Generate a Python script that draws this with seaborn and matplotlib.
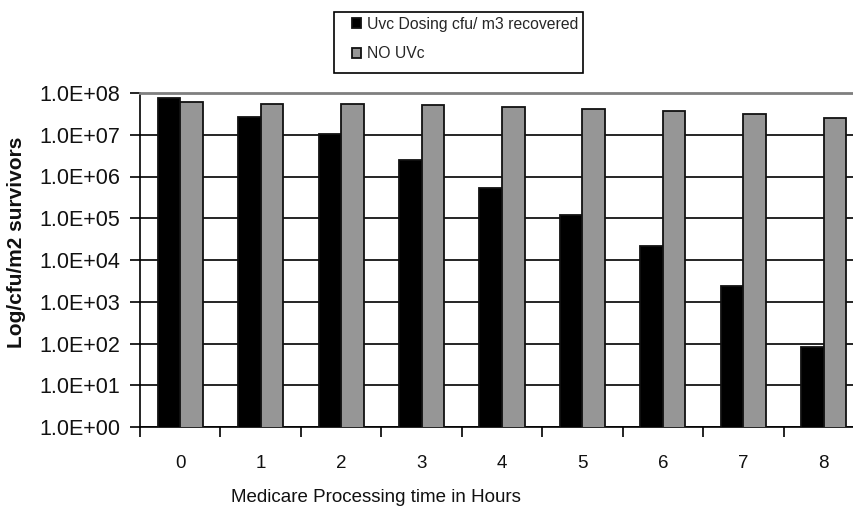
import numpy as np
import pandas as pd
import matplotlib
matplotlib.use("Agg")
import matplotlib.pyplot as plt
from matplotlib.patches import Rectangle
from matplotlib.ticker import FixedLocator, FuncFormatter, NullFormatter
import seaborn as sns

hours = ["0", "1", "2", "3", "4", "5", "6", "7", "8"]
uvc_dosing = [7.7e7, 2.66e7, 1.04e7, 2.44e6, 5.2e5, 1.22e5, 2.2e4, 2.38e3, 82]
no_uvc = [6.0e7, 5.5e7, 5.5e7, 5.1e7, 4.6e7, 4.2e7, 3.8e7, 3.2e7, 2.57e7]
series_names = ["Uvc Dosing cfu/ m3 recovered", "NO UVc"]
y_ticks = [1e0, 1e1, 1e2, 1e3, 1e4, 1e5, 1e6, 1e7, 1e8]

df = pd.DataFrame({
    "hour": hours * 2,
    "value": uvc_dosing + no_uvc,
    "series": [series_names[0]] * len(hours) + [series_names[1]] * len(hours),
})

sns.set_theme(style="white")
plt.rcParams["font.family"] = ["Liberation Sans", "DejaVu Sans"]

W, H = 854, 512
fig = plt.figure(figsize=(W / 100, H / 100), dpi=100)
ax = fig.add_axes([140 / W, 1 - 427 / H, 724 / W, 334 / H])

sns.barplot(
    data=df, x="hour", y="value", hue="series", order=hours,
    hue_order=series_names, palette=["#000000", "#969696"],
    width=0.56, edgecolor="#111111", linewidth=1.3, ax=ax,
    legend=True, zorder=3,
)

ax.set_yscale("log")
ax.set_ylim(1, 1e8)
ax.set_xlim(-0.5, 8.5)

ax.yaxis.set_major_locator(FixedLocator(y_ticks))
ax.yaxis.set_minor_locator(FixedLocator([]))
ax.yaxis.set_major_formatter(FuncFormatter(lambda v, p: f"{v:.1E}"))
ax.yaxis.grid(True, color="#000000", linewidth=1.2, zorder=0)
ax.set_axisbelow(True)

ax.xaxis.set_minor_locator(FixedLocator(np.arange(-0.5, 9.0, 1.0)))
ax.xaxis.set_minor_formatter(NullFormatter())
ax.tick_params(axis="x", which="major", length=0, pad=20, labelsize=13.5, colors="#111111")
ax.tick_params(axis="x", which="minor", length=7, width=1.2, color="#000000", bottom=True)
ax.tick_params(axis="y", which="major", length=7, width=1.2, color="#000000",
               left=True, pad=7, labelsize=15.5, labelcolor="#111111")

ax.spines["right"].set_visible(False)
ax.spines["top"].set_color("#7f7f7f")
ax.spines["top"].set_linewidth(2.0)
for side in ["left", "bottom"]:
    ax.spines[side].set_color("#000000")
    ax.spines[side].set_linewidth(1.2)

ax.set_xlabel("Medicare Processing time in Hours", fontsize=13.5, color="#111111")
ax.xaxis.set_label_coords((376 - 140) / 724, (427 - 497) / 334)
ax.set_ylabel("Log/cfu/m2 survivors", fontsize=15, fontweight="bold", color="#111111")
ax.yaxis.set_label_coords((17 - 140) / 724, (427 - 242) / 334)
ax.yaxis.label.set_va("center")
ax.xaxis.label.set_va("center")

# Legend entries without their own frame; the box is drawn separately
handles, labels = ax.get_legend_handles_labels()
ax.legend(
    handles, labels, loc="upper left",
    bbox_to_anchor=(352 / W, 1 - 17 / H),
    bbox_transform=fig.transFigure,
    frameon=False, fontsize=11.3, handlelength=0.6, handleheight=0.6,
    handletextpad=0.35, borderpad=0, labelspacing=0.9, borderaxespad=0,
)
fig.patches.append(Rectangle(
    (334 / W, 1 - 73 / H), 249 / W, 61 / H, transform=fig.transFigure,
    facecolor="none", edgecolor="#000000", linewidth=1.2,
))

fig.savefig("out.png", dpi=100)
